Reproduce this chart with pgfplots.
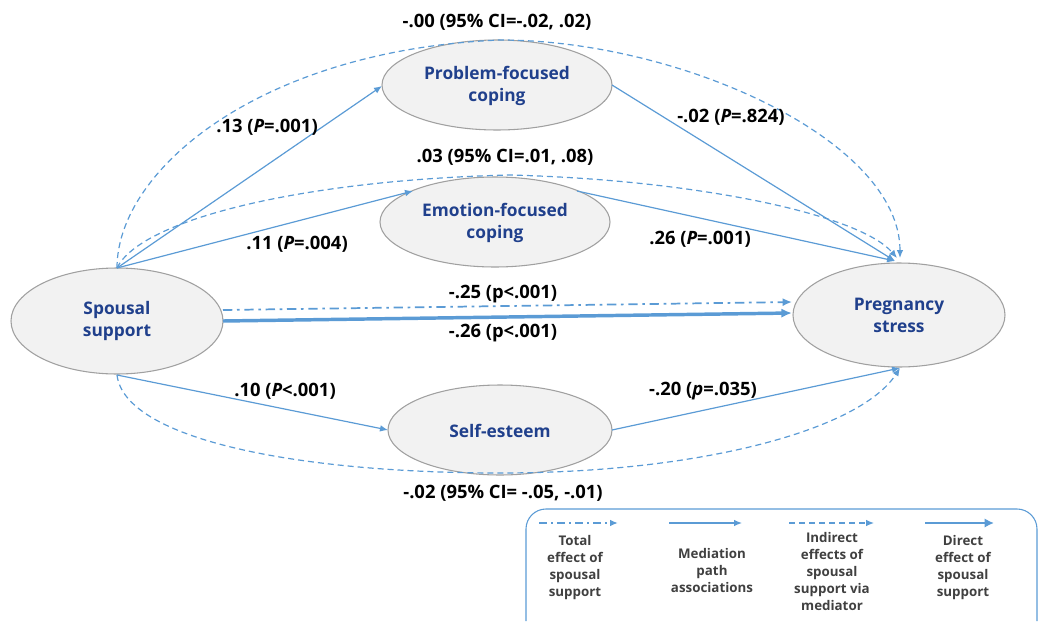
\documentclass[border=0pt]{standalone}
\usepackage{pgfplots}
\pgfplotsset{compat=1.18}
\usepackage{fontspec}
\setmainfont{Open Sans}[BoldFont={Open Sans Bold}, BoldItalicFont={Open Sans Bold Italic}]
\usetikzlibrary{arrows.meta}
\definecolor{lblue}{RGB}{91,155,213}
\definecolor{nodetxt}{RGB}{32,64,140}
\definecolor{efill}{RGB}{242,242,242}
\definecolor{eline}{RGB}{160,160,160}
\definecolor{legtxt}{RGB}{64,64,64}
\begin{document}
\begin{tikzpicture}
\begin{axis}[scale only axis, width=780pt, height=465pt,
  xmin=0, xmax=1040, ymin=0, ymax=620, y dir=reverse,
  hide axis, clip=false]
\path (axis cs:0,0) rectangle (axis cs:1040,620);
% ellipses
\draw[eline, fill=efill, line width=0.8pt] (axis cs:117,321) ellipse [x radius=79.5pt, y radius=39.75pt];
\draw[eline, fill=efill, line width=0.8pt] (axis cs:497,85) ellipse [x radius=86.25pt, y radius=33.75pt];
\draw[eline, fill=efill, line width=0.8pt] (axis cs:495,222) ellipse [x radius=86.25pt, y radius=33.75pt];
\draw[eline, fill=efill, line width=0.8pt] (axis cs:899,315) ellipse [x radius=79.5pt, y radius=39pt];
\draw[eline, fill=efill, line width=0.8pt] (axis cs:500,430) ellipse [x radius=84pt, y radius=33.75pt];
% node texts
\begin{scope}[every node/.style={nodetxt, font=\fontsize{13}{16.5}\selectfont\bfseries, align=center}]
\node at (axis cs:117,321) {Spousal\\support};
\node at (axis cs:497,86) {Problem-focused\\coping};
\node at (axis cs:495,223) {Emotion-focused\\coping};
\node at (axis cs:899,315) {Pregnancy\\stress};
\node at (axis cs:500,431) {Self-esteem};
\end{scope}
% mediation paths (solid thin)
\addplot[lblue, line width=0.9pt, -{Latex[length=6pt,width=5pt]}] coordinates {(117,268) (382,86)};
\addplot[lblue, line width=0.9pt, -{Latex[length=6pt,width=5pt]}] coordinates {(117,268) (413,191)};
\addplot[lblue, line width=0.9pt, -{Latex[length=6pt,width=5pt]}] coordinates {(612,85) (895,261)};
\addplot[lblue, line width=0.9pt, -{Latex[length=6pt,width=5pt]}] coordinates {(577,191) (895,261)};
\addplot[lblue, line width=0.9pt, -{Latex[length=6pt,width=5pt]}] coordinates {(117,375) (388,430)};
\addplot[lblue, line width=0.9pt, -{Latex[length=6pt,width=5pt]}] coordinates {(612,430) (900,368)};
% total effect (dash-dot)
\addplot[lblue, line width=1.3pt, dash pattern=on 7pt off 3.5pt on 2pt off 3.5pt, -{Latex[length=7pt,width=6pt]}] coordinates {(223,310) (792,302)};
% direct effect (thick)
\addplot[lblue, line width=2.6pt, -{Latex[length=8pt,width=7pt]}] coordinates {(223,321) (792,313)};
% indirect effects (dashed curves)
\draw[lblue, line width=0.9pt, dash pattern=on 4.5pt off 3pt, -{Latex[length=6pt,width=5pt]}]
  (axis cs:117,268) .. controls (axis cs:117,170) and (axis cs:260,50) .. (axis cs:500,40)
  .. controls (axis cs:680,40) and (axis cs:900,140) .. (axis cs:900,258);
\draw[lblue, line width=0.9pt, dash pattern=on 4.5pt off 3pt, -{Latex[length=6pt,width=5pt]}]
  (axis cs:117,268) .. controls (axis cs:140,220) and (axis cs:300,180) .. (axis cs:510,175)
  .. controls (axis cs:700,180) and (axis cs:860,215) .. (axis cs:897,258);
\draw[lblue, line width=0.9pt, dash pattern=on 4.5pt off 3pt, -{Latex[length=6pt,width=5pt]}]
  (axis cs:117,375) .. controls (axis cs:125,440) and (axis cs:300,473) .. (axis cs:500,473)
  .. controls (axis cs:700,473) and (axis cs:860,430) .. (axis cs:900,368);
% path labels
\begin{scope}[every node/.style={font=\fontsize{13.8}{16}\selectfont\bfseries, black}]
\node at (axis cs:497,22) {-.00 (95\% CI=-.02, .02)};
\node at (axis cs:267,127) {.13 (\textit{P}=.001)};
\node at (axis cs:731,117) {-.02 (\textit{P}=.824)};
\node at (axis cs:505,157) {.03 (95\% CI=.01, .08)};
\node at (axis cs:297,244) {.11 (\textit{P}=.004)};
\node at (axis cs:700,239) {.26 (\textit{P}=.001)};
\node at (axis cs:503,294) {-.25 (p<.001)};
\node at (axis cs:503,333) {-.26 (p<.001)};
\node at (axis cs:285,391) {.10 (\textit{P}<.001)};
\node at (axis cs:703,391) {-.20 (\textit{p}=.035)};
\node at (axis cs:503,493) {-.02 (95\% CI= -.05, -.01)};
\end{scope}
% legend box
\draw[lblue, line width=0.8pt, rounded corners=15pt] (axis cs:526,621) -- (axis cs:526,509) -- (axis cs:1037,509) -- (axis cs:1037,621);
\addplot[lblue, line width=1.3pt, dash pattern=on 6pt off 3pt on 1.5pt off 3pt, -{Latex[length=6pt,width=5pt]}] coordinates {(539,523) (618,523)};
\addplot[lblue, line width=0.9pt, -{Latex[length=6pt,width=5pt]}] coordinates {(669,523) (742,523)};
\addplot[lblue, line width=0.9pt, dash pattern=on 4.5pt off 3pt, -{Latex[length=6pt,width=5pt]}] coordinates {(789,523) (874,523)};
\addplot[lblue, line width=2.2pt, -{Latex[length=7pt,width=7pt]}] coordinates {(925,523) (994,523)};
\begin{scope}[every node/.style={font=\fontsize{10}{12.75}\selectfont\bfseries, legtxt, align=center}]
\node at (axis cs:575,568) {Total\\effect of\\spousal\\support};
\node at (axis cs:712,570) {Mediation\\path\\associations};
\node at (axis cs:832,571) {Indirect\\effects of\\spousal\\support via\\mediator};
\node at (axis cs:963,568) {Direct\\effect of\\spousal\\support};
\end{scope}
\end{axis}
\end{tikzpicture}
\end{document}
